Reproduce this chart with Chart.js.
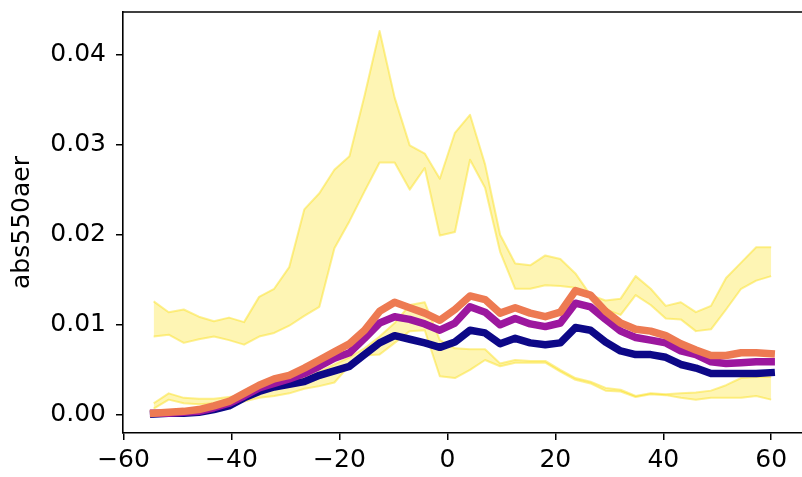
<!DOCTYPE html>
<html>
<head>
<meta charset="utf-8">
<script src="https://cdn.jsdelivr.net/npm/chart.js@4"></script>
<style>
  html, body { margin: 0; padding: 0; background: #fff; }
  canvas { display: block; }
</style>
</head>
<body>
<canvas id="chart" width="802" height="477"></canvas>
<script>
// latitudes (T42 grid rows)
const lats = [-54.42, -51.63, -48.84, -46.04, -43.25, -40.46, -37.67, -34.88, -32.09, -29.30,
  -26.51, -23.72, -20.93, -18.14, -15.35, -12.56, -9.77, -6.98, -4.19, -1.40,
  1.40, 4.19, 6.98, 9.77, 12.56, 15.35, 18.14, 20.93, 23.72, 26.51,
  29.30, 32.09, 34.88, 37.67, 40.46, 43.25, 46.04, 48.84, 51.63, 54.42, 57.21, 59.99];

// upper yellow band
const bandAHigh = [0.0126, 0.0114, 0.0117, 0.0109, 0.0104, 0.0108, 0.0103, 0.0131, 0.0140, 0.0164,
  0.0228, 0.0246, 0.0272, 0.0287, 0.0354, 0.0426, 0.0352, 0.0299, 0.0290, 0.0262,
  0.0313, 0.0333, 0.0278, 0.0200, 0.0168, 0.0166, 0.0177, 0.0173, 0.0157, 0.0133,
  0.0127, 0.0129, 0.0154, 0.0140, 0.0121, 0.0125, 0.0114, 0.0121, 0.0152, 0.0169, 0.0186, 0.0186];
const bandALow = [0.0087, 0.0089, 0.0080, 0.0084, 0.0087, 0.0083, 0.0078, 0.0087, 0.0091, 0.0099,
  0.0110, 0.0120, 0.0185, 0.0215, 0.0248, 0.0280, 0.0280, 0.0250, 0.0274, 0.0199,
  0.0203, 0.0283, 0.0252, 0.0181, 0.0140, 0.0140, 0.0144, 0.0143, 0.0141, 0.0131,
  0.0117, 0.0111, 0.0133, 0.0122, 0.0107, 0.0106, 0.0093, 0.0095, 0.0117, 0.0140, 0.0149, 0.0154];

// lower yellow band
const bandBHigh = [0.0013, 0.0024, 0.0019, 0.0018, 0.0018, 0.0020, 0.0022, 0.0026, 0.0031, 0.0036,
  0.0042, 0.0048, 0.0056, 0.0064, 0.0074, 0.0087, 0.0102, 0.0122, 0.0125, 0.0083,
  0.0074, 0.0073, 0.0073, 0.0057, 0.0061, 0.0060, 0.0060, 0.0050, 0.0041, 0.0037,
  0.0030, 0.0028, 0.0021, 0.0024, 0.0023, 0.0024, 0.0025, 0.0027, 0.0033, 0.0041, 0.0042, 0.0042];
const bandBLow = [0.0007, 0.0017, 0.0013, 0.0012, 0.0013, 0.0015, 0.0015, 0.0019, 0.0021, 0.0024,
  0.0029, 0.0032, 0.0036, 0.0055, 0.0066, 0.0067, 0.0080, 0.0093, 0.0094, 0.0043,
  0.0041, 0.0050, 0.0061, 0.0054, 0.0058, 0.0058, 0.0058, 0.0048, 0.0039, 0.0035,
  0.0027, 0.0026, 0.0020, 0.0023, 0.0022, 0.0019, 0.0017, 0.0019, 0.0019, 0.0019, 0.0021, 0.0017];

const orangeLine = [0.0002, 0.0003, 0.0004, 0.0006, 0.0010, 0.0015, 0.0024, 0.0033, 0.0040, 0.0044,
  0.0052, 0.0061, 0.0070, 0.0079, 0.0094, 0.0115, 0.0125, 0.0119, 0.0113, 0.0105,
  0.0117, 0.0132, 0.0128, 0.0113, 0.0119, 0.0113, 0.0109, 0.0114, 0.0138, 0.0133,
  0.0115, 0.0102, 0.0095, 0.0093, 0.0088, 0.0079, 0.0072, 0.0066, 0.0066, 0.0069, 0.0069, 0.0068];
const purpleLine = [0.0002, 0.0002, 0.0003, 0.0004, 0.0008, 0.0013, 0.0021, 0.0030, 0.0035, 0.0040,
  0.0046, 0.0054, 0.0063, 0.0069, 0.0085, 0.0102, 0.0109, 0.0106, 0.0101, 0.0094,
  0.0102, 0.0120, 0.0114, 0.0100, 0.0107, 0.0101, 0.0098, 0.0102, 0.0124, 0.0120,
  0.0106, 0.0093, 0.0086, 0.0083, 0.0080, 0.0071, 0.0067, 0.0059, 0.0057, 0.0058, 0.0059, 0.0059];
const navyLine = [0.0001, 0.0002, 0.0002, 0.0003, 0.0006, 0.0010, 0.0019, 0.0026, 0.0031, 0.0034,
  0.0037, 0.0044, 0.0049, 0.0054, 0.0067, 0.0080, 0.0088, 0.0084, 0.0080, 0.0075,
  0.0081, 0.0094, 0.0091, 0.0079, 0.0085, 0.0080, 0.0078, 0.0080, 0.0097, 0.0094,
  0.0081, 0.0071, 0.0067, 0.0067, 0.0064, 0.0056, 0.0052, 0.0046, 0.0046, 0.0046, 0.0046, 0.0047];

const xTicks = [-60, -40, -20, 0, 20, 40, 60];
const yTicks = [0, 0.01, 0.02, 0.03, 0.04];

const pts = arr => lats.map((x, i) => ({ x: x, y: arr[i] }));

const bandFill = 'rgba(252,225,40,0.35)';
const bandEdge = 'rgba(252,225,40,0.5)';

function band(arr, fill, order) {
  return {
    data: pts(arr), fill: fill, order: order,
    borderColor: bandEdge, backgroundColor: bandFill, borderWidth: 2,
    pointRadius: 0, tension: 0, borderJoinStyle: 'round'
  };
}
function line(arr, color, order) {
  return {
    data: pts(arr), fill: false, order: order,
    borderColor: color, borderWidth: 7.5, pointRadius: 0, tension: 0,
    borderJoinStyle: 'round', borderCapStyle: 'square'
  };
}

// draws the top spine
const topSpine = {
  id: 'topSpine',
  afterDraw(chart) {
    const a = chart.chartArea, ctx = chart.ctx;
    ctx.save();
    ctx.strokeStyle = '#000';
    ctx.lineWidth = 1.6;
    ctx.beginPath();
    ctx.moveTo(a.left - 0.8, a.top);
    ctx.lineTo(a.right, a.top);
    ctx.stroke();
    ctx.restore();
  }
};

const font = { family: 'DejaVu Sans', size: 25 };
const minus = v => String(v).replace('-', '\u2212');

new Chart(document.getElementById('chart'), {
  type: 'line',
  data: {
    datasets: [
      band(bandAHigh, '+1', 6),
      band(bandALow, false, 5),
      band(bandBHigh, '+1', 4),
      band(bandBLow, false, 3),
      line(navyLine, '#0D0887', 2),
      line(purpleLine, '#9C179E', 1),
      line(orangeLine, '#ED7A52', 0)
    ]
  },
  options: {
    responsive: false,
    animation: false,
    layout: { padding: { top: 12, right: 0, left: 0, bottom: 0 } },
    plugins: { legend: { display: false }, tooltip: { enabled: false }, title: { display: false } },
    scales: {
      x: {
        type: 'linear', min: -60.1, max: 65.7,
        afterFit: s => { s.height = 44; s.paddingLeft = 0; s.paddingRight = 0; },
        afterBuildTicks: s => { s.ticks = xTicks.map(v => ({ value: v })); },
        ticks: { font: font, color: '#000', padding: 5, maxRotation: 0, callback: v => minus(v) },
        grid: { drawOnChartArea: false, drawTicks: true, tickLength: 7, color: '#000', lineWidth: 1.5 },
        border: { color: '#000', width: 1.6 }
      },
      y: {
        type: 'linear', min: -0.002, max: 0.0447,
        afterFit: s => { s.width = 123; s.paddingTop = 0; s.paddingBottom = 0; },
        afterBuildTicks: s => { s.ticks = yTicks.map(v => ({ value: v })); },
        ticks: { font: font, color: '#000', padding: 10, callback: v => v.toFixed(2) },
        grid: { drawOnChartArea: false, drawTicks: true, tickLength: 7, color: '#000', lineWidth: 1.5 },
        border: { color: '#000', width: 1.6 },
        title: { display: true, text: 'abs550aer', font: font, color: '#000', padding: { top: 7, bottom: 0 } }
      }
    }
  },
  plugins: [topSpine]
});
</script>
</body>
</html>
